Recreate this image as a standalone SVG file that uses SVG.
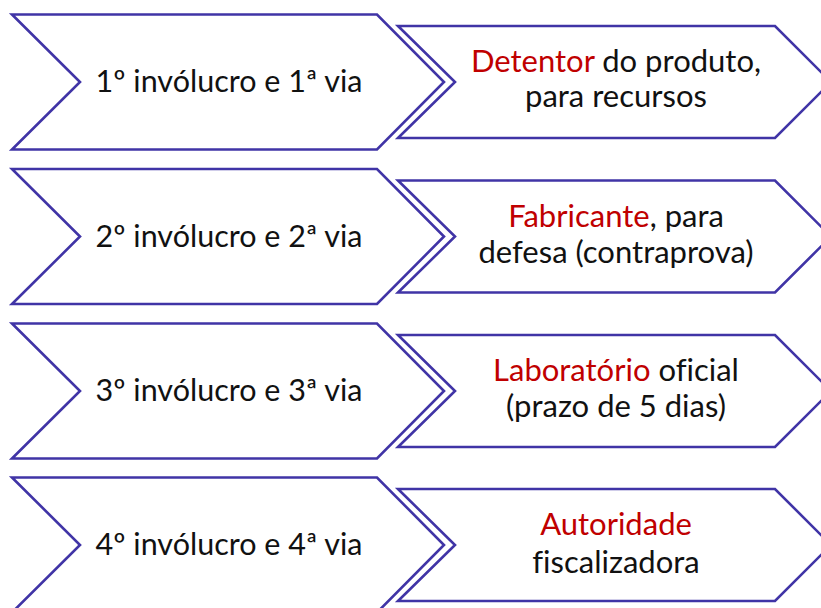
<svg xmlns="http://www.w3.org/2000/svg" width="821" height="608" viewBox="0 0 821 608">
<style>
.ch{fill:#fff;stroke:#4034A6;stroke-width:2.6;stroke-linejoin:miter}
.t{font-family:Lato,"Open Sans","Liberation Sans",sans-serif;font-size:31px;fill:#111;text-anchor:middle;font-variant-ligatures:none}
.l{font-size:30.5px}
.r{fill:#C00000}
</style>
<defs>
<polygon id="big" points="0,-67.5 365,-67.5 432,0 365,67.5 0,67.5 68,0"/>
<polygon id="small" points="0,-56 377,-56 433,0 377,56 0,56 57,0"/>
</defs>
<g id="row1-left"><use href="#big" class="ch" x="12" y="82"/><text class="t l" x="229" y="92">1º invólucro e 1ª via</text></g>
<g id="row1-right"><use href="#small" class="ch" x="398" y="82"/><text class="t" x="616" y="72"><tspan class="r">Detentor</tspan> do produto,</text><text class="t" x="616" y="107">para recursos</text></g>
<g id="row2-left"><use href="#big" class="ch" x="12" y="236.5"/><text class="t l" x="229" y="247">2º invólucro e 2ª via</text></g>
<g id="row2-right"><use href="#small" class="ch" x="398" y="236.5"/><text class="t" x="616" y="227"><tspan class="r">Fabricante</tspan>, para</text><text class="t" x="616" y="263">defesa (contraprova)</text></g>
<g id="row3-left"><use href="#big" class="ch" x="12" y="391"/><text class="t l" x="229" y="401">3º invólucro e 3ª via</text></g>
<g id="row3-right"><use href="#small" class="ch" x="398" y="391"/><text class="t" x="616" y="381"><tspan class="r">Laboratório</tspan> oficial</text><text class="t" x="616" y="417">(prazo de 5 dias)</text></g>
<g id="row4-left"><use href="#big" class="ch" x="12" y="545"/><text class="t l" x="229" y="555">4º invólucro e 4ª via</text></g>
<g id="row4-right"><use href="#small" class="ch" x="398" y="545"/><text class="t" x="616" y="535"><tspan class="r">Autoridade</tspan></text><text class="t" x="616" y="573">fiscalizadora</text></g>
<g id="connectors"/>
</svg>
